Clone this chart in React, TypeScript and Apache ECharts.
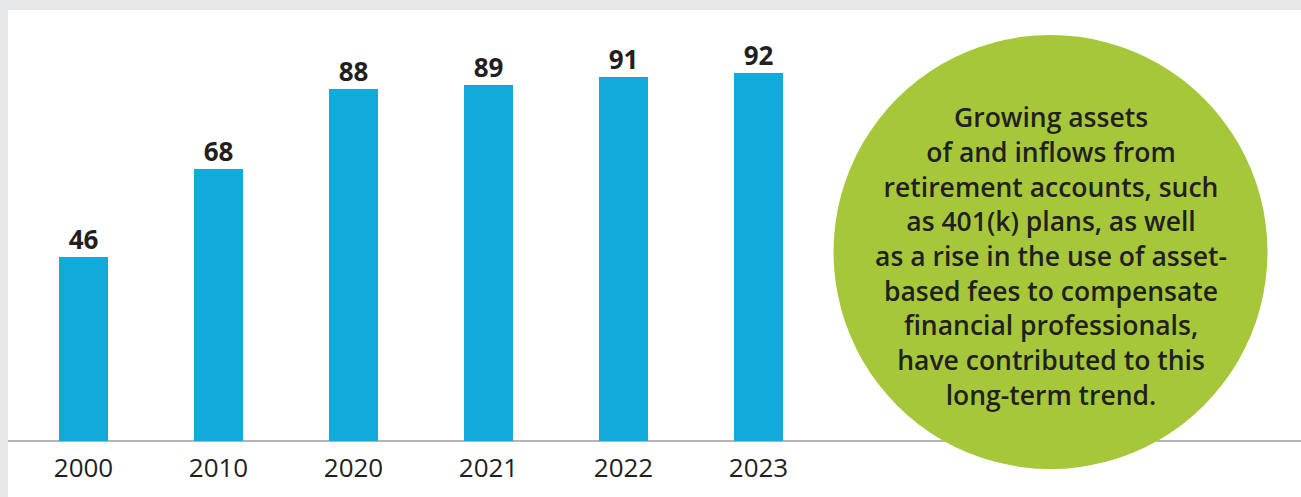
import React, { useEffect, useRef } from "react";
import * as echarts from "echarts";

const categories = ["2000", "2010", "2020", "2021", "2022", "2023"];
const values = [46, 68, 88, 89, 91, 92];
const calloutLines = [
  "Growing assets",
  "of and inflows from",
  "retirement accounts, such",
  "as 401(k) plans, as well",
  "as a rise in the use of asset-",
  "based fees to compensate",
  "financial professionals,",
  "have contributed to this",
  "long-term trend.",
];

const FONT = "'Open Sans', 'Noto Sans', sans-serif";

export default function App() {
  const ref = useRef<HTMLDivElement>(null);
  useEffect(() => {
    if (!ref.current) return;
    const chart = echarts.init(ref.current, null, { renderer: "svg" });
    chart.setOption({
      animation: false,
      backgroundColor: "#ffffff",
      grid: { left: 8, top: 31, width: 810, bottom: 56 },
      xAxis: {
        type: "category",
        data: categories,
        axisLine: { show: false },
        axisTick: { show: false },
        axisLabel: { color: "#231f20", fontSize: 26, fontFamily: FONT, margin: 13 },
      },
      yAxis: {
        type: "value",
        min: 0,
        max: 100,
        show: false,
        splitLine: { show: false },
      },
      series: [
        {
          type: "bar",
          data: values,
          barWidth: 49,
          itemStyle: { color: "#12aadb" },
          label: {
            show: true,
            position: "top",
            distance: 5,
            color: "#231f20",
            fontSize: 26,
            fontWeight: "bold",
            fontFamily: FONT,
          },
        },
      ],
      graphic: [
        {
          type: "line",
          z: 1,
          shape: { x1: 0, y1: 431, x2: 1293, y2: 431 },
          style: { stroke: "#9b9b9b", lineWidth: 1.5 },
        },
        {
          type: "circle",
          z: 10,
          shape: { cx: 1042.5, cy: 242, r: 217 },
          style: { fill: "#a7c73b" },
        },
        {
          type: "text",
          z: 11,
          x: 1043,
          y: 246,
          style: {
            text: calloutLines.join("\n"),
            fill: "#231f20",
            font: `600 26.5px ${FONT}`,
            lineHeight: 34.7,
            textAlign: "center",
            textVerticalAlign: "middle",
          },
        },
      ],
    });
    return () => chart.dispose();
  }, []);
  return (
    <div
      style={{
        position: "absolute",
        left: 0,
        top: 0,
        width: 1301,
        height: 497,
        background: "#e6e7e8",
        overflow: "hidden",
      }}
    >
      <div
        ref={ref}
        style={{ position: "absolute", left: 8, top: 10, width: 1293, height: 487 }}
      />
    </div>
  );
}
